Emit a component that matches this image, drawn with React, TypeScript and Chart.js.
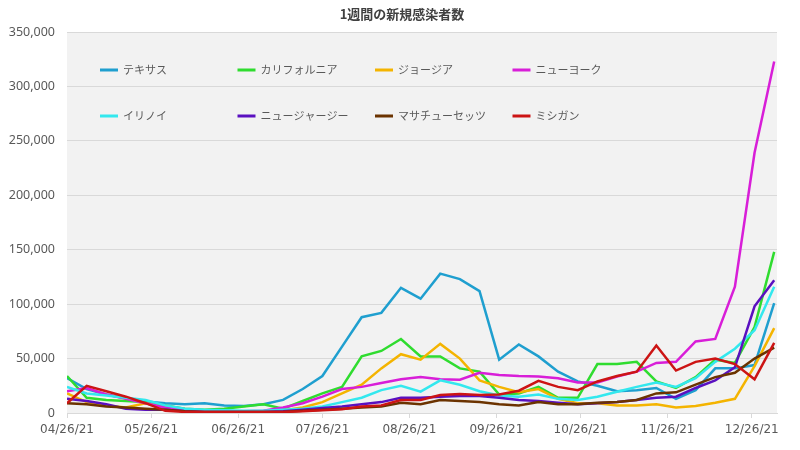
import React, { useEffect, useRef } from "react";
import { Chart, registerables } from "chart.js";

Chart.register(...registerables);

const TITLE = "1週間の新規感染者数";

const weeks = [
  "04/26/21", "05/03/21", "05/10/21", "05/17/21", "05/24/21", "05/31/21",
  "06/07/21", "06/14/21", "06/21/21", "06/28/21", "07/05/21", "07/12/21",
  "07/19/21", "07/26/21", "08/02/21", "08/09/21", "08/16/21", "08/23/21",
  "08/30/21", "09/06/21", "09/13/21", "09/20/21", "09/27/21", "10/04/21",
  "10/11/21", "10/18/21", "10/25/21", "11/01/21", "11/08/21", "11/15/21",
  "11/22/21", "11/29/21", "12/06/21", "12/13/21", "12/20/21", "12/27/21",
  "01/03/22",
];

const xTickLabels = [
  "04/26/21", "05/26/21", "06/26/21", "07/26/21", "08/26/21",
  "09/26/21", "10/26/21", "11/26/21", "12/26/21",
];

const yTicks = [0, 50000, 100000, 150000, 200000, 250000, 300000, 350000];

const texas = [32000, 22000, 17000, 13500, 10500, 9000, 8000, 9000, 7000, 6500, 8000, 12000, 22000, 34000, 61000, 88000, 92000, 115000, 105000, 128000, 123000, 112000, 49000, 63000, 52000, 38000, 29000, 25000, 20000, 21000, 23000, 13000, 21000, 41000, 41000, 44000, 101000];
const california = [34000, 14000, 12000, 11000, 10000, 7000, 4000, 3000, 4000, 6000, 8000, 4000, 11000, 18000, 24000, 52000, 57000, 68000, 52000, 52000, 41000, 38000, 17000, 18000, 24000, 14000, 14000, 45000, 45000, 47000, 29000, 23000, 33000, 49000, 46000, 79000, 148000];
const georgia = [18000, 10000, 7000, 5000, 9000, 5000, 2000, 1500, 1000, 1000, 1500, 2500, 5000, 10000, 18000, 26000, 41000, 54000, 49000, 63500, 50000, 30000, 24000, 19000, 22000, 13000, 9000, 9000, 7000, 7000, 8000, 5000, 6500, 9500, 13000, 43000, 78000];
const newYork = [20000, 23000, 17000, 13000, 9000, 5000, 3000, 2000, 1500, 1500, 2000, 5000, 9000, 15000, 22000, 24000, 27600, 31000, 33000, 31000, 30500, 37000, 35000, 34000, 33500, 32000, 28000, 28000, 33500, 38000, 46000, 47000, 65700, 68000, 116000, 239000, 323000];
const illinois = [24000, 18000, 16000, 14000, 12000, 7000, 4000, 3000, 2500, 2000, 2000, 3000, 4000, 6000, 10000, 14000, 21000, 25000, 19600, 30000, 26000, 20000, 16000, 15000, 17000, 13000, 12000, 15000, 19600, 24000, 28000, 24000, 32000, 47000, 59000, 76000, 116000];
const newJersey = [13000, 11000, 8000, 4000, 3000, 3000, 1500, 1000, 1000, 1000, 1000, 1500, 3000, 4500, 6000, 8000, 10000, 14000, 14000, 15000, 15600, 15600, 14000, 12000, 11000, 9500, 8000, 9000, 10000, 12000, 14000, 15000, 23000, 30000, 42000, 98000, 122000];
const massachusetts = [9000, 8000, 6000, 5000, 4000, 3000, 1500, 1000, 1000, 1000, 1000, 1000, 2000, 3000, 4000, 5000, 6000, 9500, 8000, 12000, 11000, 10000, 8000, 7000, 10000, 8000, 8000, 9500, 10000, 12000, 18000, 19000, 26000, 33000, 37000, 50000, 60000];
const michigan = [9000, 25000, 20000, 15000, 9000, 2000, 1000, 1000, 1000, 1000, 1000, 1000, 1500, 2500, 3500, 6000, 7000, 12000, 12000, 16600, 17500, 16600, 17000, 20500, 29500, 24000, 21000, 29000, 34000, 38000, 62000, 39000, 47000, 50000, 45000, 31000, 64500];

const seriesNames = ["テキサス", "カリフォルニア", "ジョージア", "ニューヨーク", "イリノイ", "ニュージャージー", "マサチューセッツ", "ミシガン"];
const seriesValues = [texas, california, georgia, newYork, illinois, newJersey, massachusetts, michigan];
const seriesColors = ["#1f9fcf", "#2fdc2f", "#f4b400", "#d81ed8", "#33e8ee", "#5a10c0", "#6b3300", "#cc1414"];

const DAY = 86400000;
function parseDate(s: string): number {
  const [m, d, y] = s.split("/").map(Number);
  return Date.UTC(2000 + y, m - 1, d);
}
const origin = parseDate(weeks[0]);
const toDay = (s: string) => Math.round((parseDate(s) - origin) / DAY);
const fmtDay = (v: number) => {
  const dt = new Date(origin + v * DAY);
  const mm = String(dt.getUTCMonth() + 1).padStart(2, "0");
  const dd = String(dt.getUTCDate()).padStart(2, "0");
  const yy = String(dt.getUTCFullYear() % 100).padStart(2, "0");
  return `${mm}/${dd}/${yy}`;
};

const weekDays = weeks.map(toDay);
const tickDays = xTickLabels.map(toDay);

const bgPlugin = {
  id: "plotBg",
  beforeDraw(chart: any) {
    const { ctx, chartArea } = chart;
    ctx.save();
    ctx.fillStyle = "#ffffff";
    ctx.fillRect(0, 0, chart.width, chart.height);
    ctx.fillStyle = "#f2f2f2";
    ctx.fillRect(chartArea.left, chartArea.top, chartArea.right - chartArea.left, chartArea.bottom - chartArea.top);
    ctx.restore();
  },
  afterDraw(chart: any) {
    const { ctx, chartArea } = chart;
    ctx.save();
    // title
    ctx.fillStyle = "#404040";
    ctx.font = "bold 13px 'Noto Sans CJK JP', sans-serif";
    ctx.textAlign = "center";
    ctx.textBaseline = "middle";
    ctx.fillText(TITLE, chart.width / 2 + 2, 14);
    // legend grid 4x2 inside plot area
    ctx.font = "11px 'Noto Sans CJK JP', sans-serif";
    ctx.textAlign = "left";
    chart.data.datasets.forEach((ds: any, i: number) => {
      const col = i % 4;
      const row = Math.floor(i / 4);
      const x = chartArea.left + 33 + col * 137.5;
      const y = chartArea.top + 38 + row * 46;
      ctx.strokeStyle = ds.borderColor;
      ctx.lineWidth = 3;
      ctx.beginPath();
      ctx.moveTo(x, y);
      ctx.lineTo(x + 18, y);
      ctx.stroke();
      ctx.fillStyle = "#595959";
      ctx.fillText(ds.label, x + 23, y);
    });
    ctx.restore();
  },
};

export default function App() {
  const ref = useRef<HTMLCanvasElement>(null);
  useEffect(() => {
    document.body.style.margin = "0";
    const datasets = seriesNames.map((name, i) => ({
      label: name,
      data: seriesValues[i].map((v, j) => ({ x: weekDays[j], y: v })),
      borderColor: seriesColors[i],
      backgroundColor: seriesColors[i],
      borderWidth: 2.5,
      pointRadius: 0,
      tension: 0,
      order: seriesNames.length - i,
    }));
    const chart = new Chart(ref.current as HTMLCanvasElement, {
      type: "line",
      data: { datasets },
      plugins: [bgPlugin],
      options: {
        animation: false,
        responsive: false,
        maintainAspectRatio: false,
        layout: { padding: { top: 32, right: 23, left: 0, bottom: 0 } },
        plugins: { legend: { display: false }, title: { display: false }, tooltip: { enabled: false } },
        scales: {
          x: {
            type: "linear",
            min: 0,
            max: 253,
            afterBuildTicks: (scale: any) => {
              scale.ticks = tickDays.map((v) => ({ value: v }));
            },
            afterFit: (scale: any) => {
              scale.height = 37;
              scale.paddingLeft = 0;
              scale.paddingRight = 0;
            },
            ticks: {
              autoSkip: false,
              maxRotation: 0,
              minRotation: 0,
              padding: 5,
              color: "#595959",
              font: { family: "'DejaVu Sans', sans-serif", size: 12 },
              callback: (v: any) => fmtDay(Number(v)),
            },
            grid: { display: true, drawOnChartArea: false, drawTicks: true, tickLength: 5, color: "#d9d9d9" },
            border: { display: true, color: "#d9d9d9", width: 1 },
          },
          y: {
            min: 0,
            max: 350000,
            afterBuildTicks: (scale: any) => {
              scale.ticks = yTicks.map((v) => ({ value: v }));
            },
            afterFit: (scale: any) => {
              scale.width = 67;
            },
            ticks: {
              padding: 12,
              color: "#595959",
              font: { family: "'Noto Sans', sans-serif", size: 12.5 },
              callback: (v: any) => Number(v).toLocaleString("en-US"),
            },
            grid: { color: "#d9d9d9", drawTicks: false, lineWidth: 1 },
            border: { display: false },
          },
        },
      },
    });
    return () => chart.destroy();
  }, []);
  return (
    <div style={{ position: "absolute", left: 0, top: 0, width: 800, height: 450 }}>
      <canvas ref={ref} width={800} height={450} style={{ display: "block" }} />
    </div>
  );
}
